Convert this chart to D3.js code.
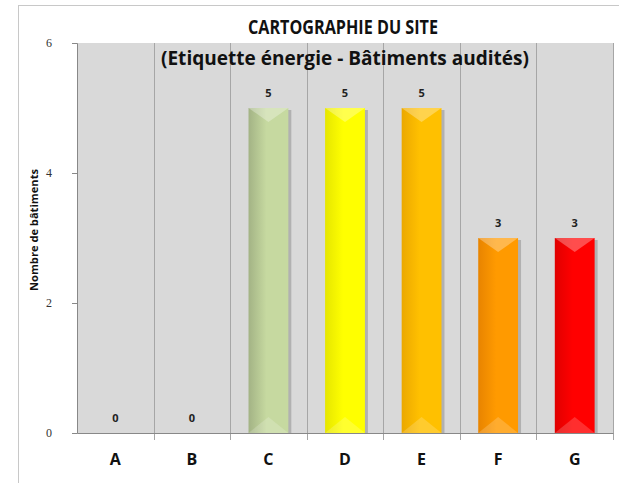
<!DOCTYPE html>
<style>
body { margin: 0; background: #fff; }
svg { font-family: "Open Sans", Calibri, sans-serif; }
</style>
<script src="https://d3js.org/d3.v7.min.js"></script>
<svg width="619" height="483"></svg>
<script>
var categories = ["A", "B", "C", "D", "E", "F", "G"];
var values = [0, 0, 5, 5, 5, 3, 3];
var barColors = ["#c6d9a0", "#c6d9a0", "#c6d9a0", "#ffff00", "#ffc000", "#ff9a00", "#ff0000"];
var darkColors = ["#a3b385", "#a3b385", "#a3b385", "#e6e600", "#eba800", "#e88400", "#e00000"];
var yTicks = [0, 2, 4, 6];

var svg = d3.select("svg");
var x0 = 77, x1 = 613, y0 = 433, y1 = 43;

svg.append("rect")
    .attr("x", 18.5).attr("y", 5.5)
    .attr("width", 640).attr("height", 500)
    .attr("fill", "#fff").attr("stroke", "#c8c8c8");

var x = d3.scaleBand().domain(categories).range([x0, x1]).paddingInner(0.48).paddingOuter(0.24);
var xb = d3.scaleBand().domain(categories).range([x0, x1]);
var y = d3.scaleLinear().domain([0, 6]).range([y0, y1]);

svg.append("rect")
    .attr("x", x0).attr("y", y1)
    .attr("width", x1 - x0).attr("height", y0 - y1)
    .attr("fill", "#d9d9d9");

// vertical grid at category boundaries
svg.append("g").selectAll("line")
    .data(categories)
    .enter().append("line")
    .attr("x1", function(d, i) { return Math.round(xb.step() * (i + 1) + x0) + 0.5; })
    .attr("x2", function(d, i) { return Math.round(xb.step() * (i + 1) + x0) + 0.5; })
    .attr("y1", y1).attr("y2", y0 + 7)
    .attr("stroke", "#a6a6a6");

var defs = svg.append("defs");
categories.forEach(function(c, i) {
  var g = defs.append("linearGradient").attr("id", "grad" + i)
      .attr("x1", "0").attr("x2", "1").attr("y1", "0").attr("y2", "0");
  g.append("stop").attr("offset", "0").attr("stop-color", darkColors[i]);
  g.append("stop").attr("offset", "0.45").attr("stop-color", barColors[i]);
  g.append("stop").attr("offset", "1").attr("stop-color", barColors[i]);
});

var bar = svg.append("g").selectAll("g")
    .data(categories.map(function(c, i) { return {cat: c, val: values[i], i: i}; }))
    .enter().append("g");

var full = bar.filter(function(d) { return d.val > 0; });

// shadow
full.append("rect")
    .attr("x", function(d) { return x(d.cat) + 3; })
    .attr("y", function(d) { return y(d.val) + 2; })
    .attr("width", x.bandwidth())
    .attr("height", function(d) { return y0 - y(d.val) - 2; })
    .attr("fill", "#a0a0a0").attr("opacity", 0.7);

full.append("rect")
    .attr("x", function(d) { return x(d.cat); })
    .attr("y", function(d) { return y(d.val); })
    .attr("width", x.bandwidth())
    .attr("height", function(d) { return y0 - y(d.val); })
    .attr("fill", function(d) { return "url(#grad" + d.i + ")"; });

// bevel top
full.append("path")
    .attr("d", function(d) {
      var l = x(d.cat), r = l + x.bandwidth(), t = y(d.val), m = (l + r) / 2;
      return "M" + l + "," + t + "L" + r + "," + t + "L" + m + "," + (t + 14) + "Z";
    })
    .attr("fill", "#fff").attr("opacity", 0.3);

// bevel bottom
full.append("path")
    .attr("d", function(d) {
      var l = x(d.cat), r = l + x.bandwidth(), m = (l + r) / 2;
      return "M" + l + "," + y0 + "L" + r + "," + y0 + "L" + m + "," + (y0 - 16) + "Z";
    })
    .attr("fill", "#fff").attr("opacity", 0.18);

bar.append("text")
    .attr("x", function(d) { return x(d.cat) + x.bandwidth() / 2; })
    .attr("y", function(d) { return y(d.val) - 11; })
    .attr("text-anchor", "middle")
    .attr("font-size", 11).attr("font-weight", "bold").attr("fill", "#222")
    .text(function(d) { return d.val; });

// axes
var yAxis = svg.append("g")
    .attr("transform", "translate(" + x0 + ",0)")
    .call(d3.axisLeft(y).tickValues(yTicks).tickSize(5).tickPadding(20).tickFormat(d3.format("d")));
yAxis.select(".domain").attr("stroke", "#888");
yAxis.selectAll(".tick line").attr("stroke", "#888");
yAxis.selectAll("text").attr("font-family", "'Liberation Serif', 'DejaVu Serif', serif")
    .attr("font-size", 12).attr("fill", "#333");

var xAxis = svg.append("g")
    .attr("transform", "translate(0," + y0 + ")")
    .call(d3.axisBottom(xb).tickSize(0).tickPadding(21));
xAxis.select(".domain").attr("stroke", "#888");
xAxis.selectAll("text").attr("font-size", 16).attr("font-weight", "bold")
    .attr("fill", "#111").attr("font-family", "'Open Sans', sans-serif");

svg.append("text")
    .attr("transform", "translate(38," + 230 + ") rotate(-90)")
    .attr("text-anchor", "middle")
    .attr("font-size", 10.5).attr("font-weight", "bold").attr("fill", "#111")
    .attr("textLength", 122).attr("lengthAdjust", "spacingAndGlyphs")
    .text("Nombre de bâtiments");

svg.append("text")
    .attr("x", 343).attr("y", 34)
    .attr("text-anchor", "middle")
    .attr("font-size", 19).attr("font-weight", "bold").attr("fill", "#111")
    .attr("textLength", 190).attr("lengthAdjust", "spacingAndGlyphs")
    .text("CARTOGRAPHIE DU SITE");

svg.append("text")
    .attr("x", 345).attr("y", 65)
    .attr("text-anchor", "middle")
    .attr("font-size", 19).attr("font-weight", "bold").attr("fill", "#111")
    .attr("textLength", 368).attr("lengthAdjust", "spacingAndGlyphs")
    .text("(Etiquette énergie - Bâtiments audités)");
</script>
